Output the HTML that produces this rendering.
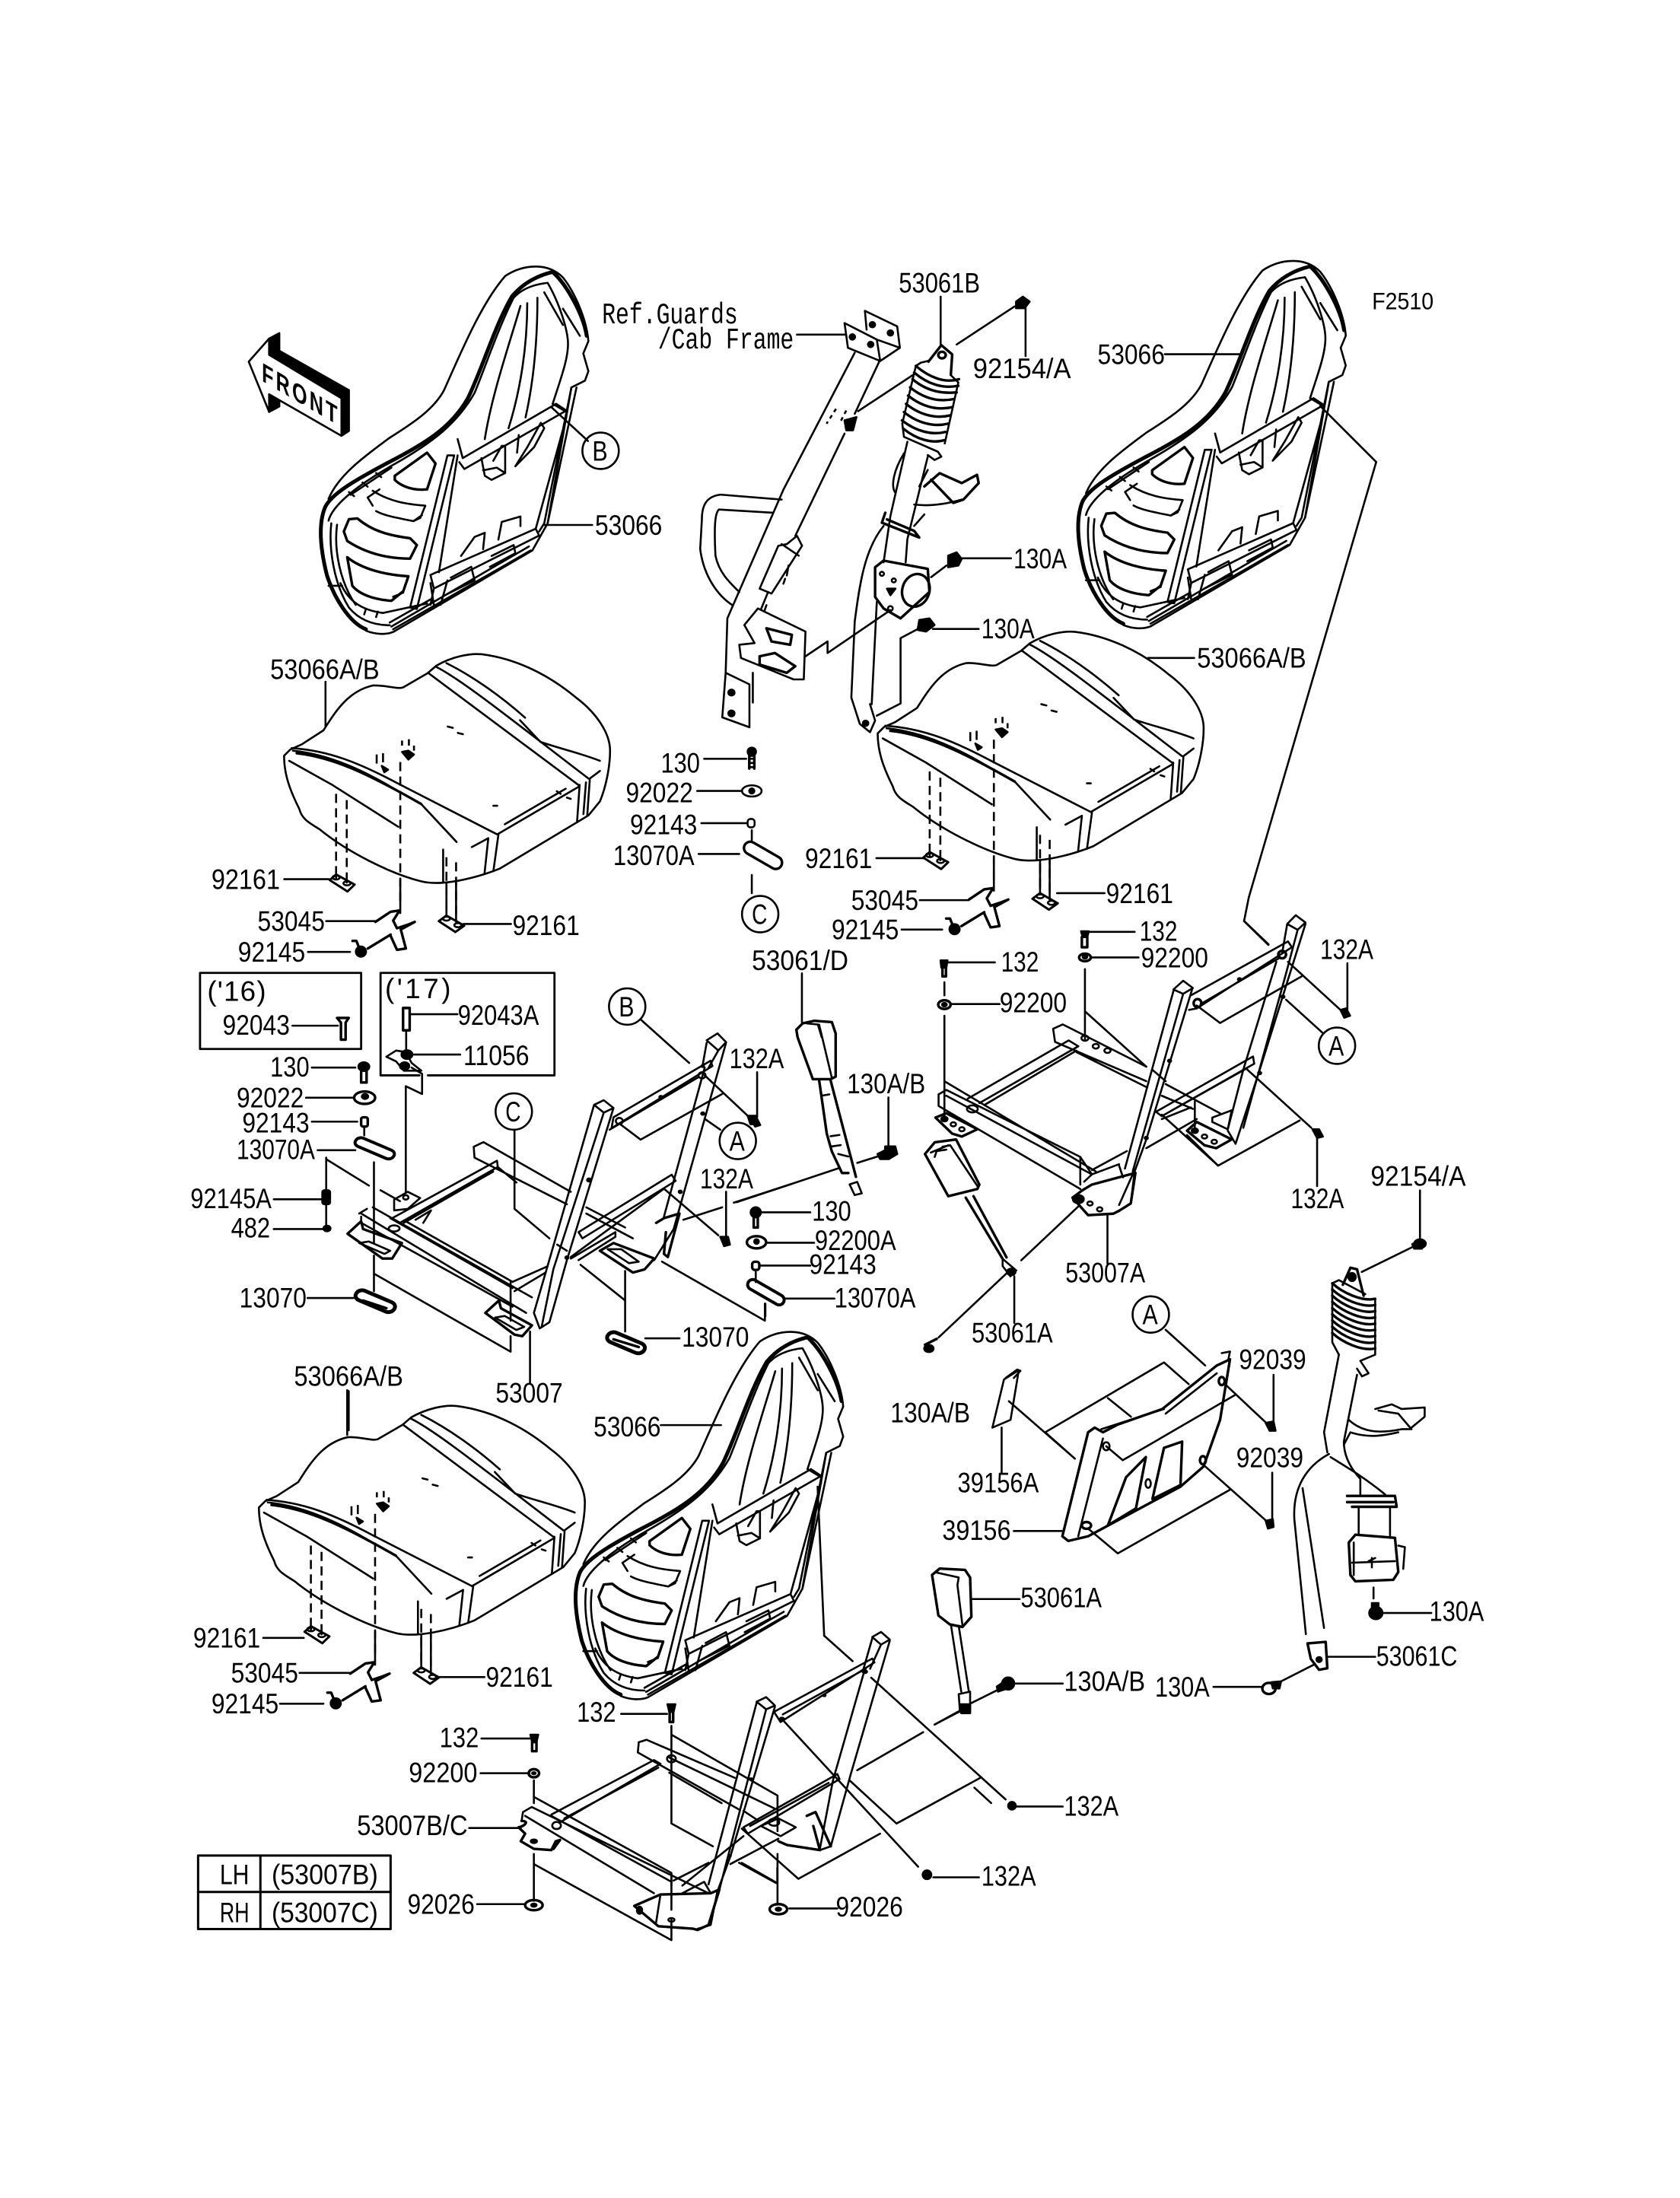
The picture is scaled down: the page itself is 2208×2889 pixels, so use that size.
<!DOCTYPE html>
<html><head><meta charset="utf-8"><style>
html,body{margin:0;padding:0;background:#fff}
svg{display:block}
svg *{vector-effect:non-scaling-stroke}
g,path,ellipse,circle,rect,use{fill:none;stroke:#000;stroke-width:2.6;stroke-linejoin:round;stroke-linecap:round}
.t{stroke-width:5}
.m{stroke-width:3.4}
.k{fill:#000}
.d{stroke-dasharray:12 7;stroke-linecap:butt}
text{font-family:"Liberation Sans",sans-serif;font-size:20px;fill:#000;stroke:none}
</style></head><body>
<svg xmlns="http://www.w3.org/2000/svg" width="2208" height="2889" viewBox="0 0 1200 1570.1">
<rect width="1200" height="1571" style="fill:#fff;stroke:none"/>
<defs>
<g id="sb"><g transform="translate(152.2,173.9) scale(.2426,.1941)">
<path d="M340 940C370 850 450 780 520 715C590 660 650 610 680 540C730 400 790 220 860 120C890 95 920 85 950 85C985 85 1010 100 1030 125C1065 180 1100 280 1105 360L1090 405L1105 470L1095 505L1055 530L985 1030L940 1130L530 1430C510 1440 480 1440 450 1425"/>
<path class="t" d="M450 1420C400 1395 355 1300 335 1220C315 1120 310 1030 330 970C350 920 420 870 510 810C620 740 700 680 750 570C790 470 830 300 880 195C910 150 950 120 1000 105C1040 150 1090 260 1100 340"/>
<path d="M340 1020C350 970 410 900 530 815C650 730 720 660 770 550C800 460 840 310 885 200C910 165 950 150 985 145C1020 220 1045 320 1045 370C1045 430 1020 510 1000 590"/>
<path d="M348 1030C340 1120 355 1250 400 1340C430 1385 470 1405 520 1405M365 1035C355 1130 375 1250 420 1330"/>
<path d="M905 230C870 380 820 560 800 720M925 220C925 380 905 540 870 680M955 200C955 350 945 500 920 640M975 180L1030 300M1080 340L1030 240"/>
<path d="M720 720L735 790L1010 590L1040 615L740 830L725 805M720 780L665 1210M690 780L580 1340L600 1345L710 780ZM1070 530L985 1030M1040 640L950 1050M1000 590L1040 620M1055 530L975 1030L960 1060"/>
<path d="M640 1220L950 1050L960 1075L650 1270L640 1220M650 1270L640 1330M690 1240L670 1330"/>
<path class="m" d="M630 770L655 810L630 905C590 910 555 895 535 870L535 855Z"/>
<path d="M490 905L455 935L470 965M470 910C520 950 570 960 625 965L610 1010L590 1022C540 1010 500 1000 480 985M590 1022L615 1000"/>
<path class="m" d="M400 1015L425 1012C470 1060 520 1075 580 1085L600 1110L580 1160C510 1160 450 1140 395 1095L385 1060Z"/>
<path class="m" d="M395 1155C440 1200 510 1220 575 1225L560 1280L525 1315C470 1310 430 1290 410 1260Z"/>
<path d="M530 1300L560 1285M405 925L525 825M440 880L455 895M480 845L495 860M400 915L415 930M340 1260L380 1260M375 1250C400 1320 440 1350 500 1360L630 1325M450 1345L445 1365M485 1355L480 1375M530 1420L935 1130M525 1410L930 1115M520 1395L640 1310"/>
<path d="M790 790L800 855L820 870L860 845L860 745L850 745L825 800M795 835L835 825L860 845M890 820L925 750L965 660L975 680L945 750L890 820M900 705L895 770"/>
<path d="M730 1150L770 1080L800 1065L795 1125M840 1090L850 1025L905 1005L905 1040M700 1230L760 1190L770 1240L690 1290M820 1150L885 1110L890 1140L815 1190M650 1330L640 1250"/>
</g></g>

<g id="cu"><g transform="translate(184.8,456.5) scale(.1812)">
<path d="M100 460L125 435L170 415L255 360C300 290 350 205 450 183C500 180 550 200 570 190L665 135L700 105C760 70 830 55 880 60C1000 75 1130 130 1250 230C1330 290 1385 370 1385 440C1385 500 1370 580 1345 640L1300 695L950 905C850 945 720 975 640 955C520 925 350 840 240 750C200 725 170 710 160 670C120 590 100 530 100 460Z"/>
<path d="M130 430C280 440 400 490 550 570L940 770M135 440C280 455 420 520 550 600L640 650L780 800M120 480L290 575L550 740"/>
<path class="m" d="M150 450C290 465 430 530 640 650"/>
<path d="M940 770L1265 580M970 730L1210 590M840 820L905 785L890 925M945 770L925 915M670 135L1260 575M700 110C800 160 1000 320 1300 550M740 95C850 150 960 230 1050 310M1030 320L1110 405C1180 430 1270 450 1345 480M1265 575L1255 720M1305 555L1295 695M1290 565L1280 690M1305 550L1345 520"/>
<path class="d" d="M305 610V930M347 635V925M558 485V1050M778 880V1115M740 860V1095"/>
<path d="M727 830V960M558 950V1080M305 930V945M347 925V960M740 960V1095M778 960V1115"/>
<path d="M745 345L765 350M785 370L805 375M925 657L940 657M1175 600L1190 610M1215 625L1230 630"/>
<path class="d" d="M465 455V510M490 450V500M565 400V420M592 395V420M612 420V440"/>
<path class="k" d="M565 445L590 440L612 455L590 475ZM485 500L510 515L495 525Z"/>
<path d="M280 950L305 928L378 968L350 995Z" style="stroke-width:3"/>
<ellipse cx="305" cy="940" rx="14" ry="8"/><ellipse cx="348" cy="963" rx="14" ry="8"/>
<path d="M710 1112L740 1090L810 1130L775 1155Z" style="stroke-width:3"/>
<ellipse cx="740" cy="1102" rx="14" ry="8"/><ellipse cx="785" cy="1128" rx="14" ry="8"/>
<path class="m" d="M460 1115L520 1075L555 1070L530 1110L545 1140L590 1125L615 1115L560 1145L580 1220L545 1225L520 1170M430 1220L520 1165"/>
<circle class="k" cx="403" cy="1232" r="20"/><path class="m" d="M370 1190L385 1190L395 1215"/>
</g></g>

<g id="bv"><circle class="k" cx="0" cy="0" r="3.4" style="stroke-width:1"/><path class="m" d="M-1.8 3V12M1.8 3V12"/><path d="M-2 5H2M-2 8H2M-2 11H2"/></g>
<g id="sl"><rect x="-15" y="-4.5" width="30" height="9" rx="4.5" transform="rotate(30)" style="stroke-width:3.4"/></g>
</defs>

<!-- seats -->
<use href="#sb"/><use href="#sb" x="541" y="-4"/><use href="#sb" x="182" y="761"/>
<use href="#cu"/><use href="#cu" x="424" y="-16"/><use href="#cu" x="-18" y="537"/>

<!-- front arrow -->
<g transform="translate(152.2,173.9) scale(.2426,.1941)">
<path class="k" d="M165 350L195 330L195 395L400 540L400 690L378 708L378 570L165 410Z"/>
<path class="k" d="M165 620L195 600L195 575L165 555Z"/>
<path d="M165 350L105 435L165 620L165 555L378 708L378 570L165 410Z" style="fill:#fff"/>
</g>
<text transform="matrix(.72,.42,0,1,187,272)" textLength="75" lengthAdjust="spacing" style="font-weight:bold;font-size:19px">FRONT</text>

<!-- belt assembly center -->
<g transform="translate(478.3,184.8) scale(.2426,.2357)">
<path d="M515 195L610 245L620 310L525 270ZM575 158L670 205L678 270L620 310M575 158L580 215M610 245L678 270"/>
<circle class="k" cx="538" cy="237" r="8"/><circle class="k" cx="592" cy="260" r="8"/><circle class="k" cx="597" cy="200" r="8"/><circle class="k" cx="650" cy="225" r="8"/>
<path d="M545 285L335 700L170 1090L165 1255M618 310L545 470M515 530L370 840M330 730L150 715C110 720 95 745 95 790L90 880C100 960 140 1020 185 1050M305 770L145 760C135 770 130 800 135 900C145 950 175 980 205 1010"/>
<path class="d" style="stroke-dasharray:5 5" d="M490 455L462 500M520 460L500 500"/>
<path class="k" d="M515 490L550 480L540 520L520 520Z"/>
<path d="M320 870L265 1000L300 1015L390 870L375 840L345 865ZM330 865L380 900M345 960L350 930M335 985L340 970"/>
<path d="M260 1060L400 1130L395 1275L365 1275L210 1210L205 1170L250 1165L220 1110ZM285 1050L280 1065M290 1010L270 1060"/>
<path class="m" d="M285 1120L360 1140L355 1170L300 1160Z"/>
<path class="m" d="M265 1205L310 1195L370 1235L345 1255L265 1230Z"/>
<path d="M165 1255L235 1290L235 1420L155 1390ZM245 1255V1345"/>
<circle class="k" cx="182" cy="1315" r="9"/><circle class="k" cx="182" cy="1378" r="9"/>
<path d="M400 1205L465 1160V1195L650 1065M555 462L720 350"/>
<path d="M845 260L1015 145M798 115V260M1048 145V295M375 230H515M1005 908H860M910 1122H775M770 965L815 930M680 1348V1150L735 1120M680 1348L610 1385"/>
<path class="m" d="M762 312L800 262L832 290L828 352"/>
<path d="M760 310L740 315L725 325L685 500L690 540L790 585L800 600L780 610L760 595M850 375L810 560M850 375L830 355"/>
<ellipse cx="802" cy="292" rx="11" ry="10" class="m"/>
<path class="m" d="M725 325C765 360 810 378 852 365M720 345C760 380 805 395 850 385M715 365C755 400 800 410 845 405M708 390C750 425 795 435 838 425M702 415C745 450 790 460 832 450M696 440C738 475 785 485 825 475M690 465C732 500 780 510 820 500M684 490C728 525 775 535 812 525M688 515C730 550 775 560 808 550"/>
<path d="M700 555L650 780L630 920M760 600L700 850L695 920M690 590C660 640 650 690 665 710"/>
<path class="m" d="M750 690L795 650L860 680L905 655L910 680L865 730L835 740L770 670"/>
<path d="M720 745C760 750 810 745 860 730M720 810L750 775M735 690L760 640"/>
<path class="m" d="M635 770L625 800L735 845L720 825L640 790"/>
<path class="m" d="M605 935L630 915L760 940L765 1010L680 1090L630 1060L605 1025Z"/>
<ellipse cx="725" cy="1005" rx="40" ry="50" transform="rotate(15 725 1005)" class="m"/>
<circle cx="625" cy="955" r="6"/><circle cx="660" cy="975" r="6"/><circle cx="650" cy="1060" r="7"/><path class="k" d="M640 1000L665 1000L650 1020Z"/>
<path d="M630 810C575 880 560 980 545 1100L535 1330L560 1410L590 1435L605 1400L590 1350M610 1040L595 1350"/>
<circle class="k" cx="577" cy="1408" r="8"/>
<path class="k" d="M1020 130L1040 115L1060 130L1045 150L1020 150Z"/>
<path class="k" d="M820 900L845 890L860 910L850 930L820 935Z"/>
<path class="k" d="M735 1095L765 1090L780 1110L755 1130L730 1125Z"/>
</g>

<!-- hardware center column -->
<path d="M503 542H533M498 565H530M501 588H533M499 610H528M537 593V600M537 625V638"/>
<use href="#bv" x="537" y="537"/>
<ellipse cx="537" cy="565" rx="7" ry="4"/><circle class="k" cx="537" cy="565" r="1.8"/>
<rect x="534" y="585" width="5" height="6" rx="2"/>
<use href="#sl" x="545" y="611"/>

<!-- 53061/D + hardware -->
<g transform="translate(521.7,668.5) scale(.1812)">
<path d="M282 148V340M623 637V825M500 895L580 870M25 1050L430 915"/>
<path class="m" d="M260 370L285 345L330 335L400 340L415 385L415 555L395 565L325 565L265 400Z"/>
<path d="M300 345L350 350L400 560M345 350L360 400"/>
<path class="m" d="M350 570L380 780L400 850L440 935L465 935M395 570L495 950"/>
<path d="M360 630L390 625M395 790L430 785M400 830L435 825M425 860L465 870M470 980L500 970L518 1015L490 1022Z"/>
<path class="k" d="M580 860L610 845L610 830L650 830L658 860L625 880L590 880Z"/>
<path d="M120 1090H315M140 1210H330M120 1300H315M215 1430H410M100 1325V1365M138 1450V1500"/>
<circle class="k" cx="100" cy="1090" r="20"/>
<path class="m" d="M92 1110V1150H108V1110"/>
<ellipse cx="103" cy="1208" rx="38" ry="24" class="m"/><circle class="k" cx="103" cy="1205" r="9"/>
<rect x="86" y="1285" width="28" height="32" rx="10" class="m"/>
<rect x="60" y="1385" width="160" height="40" rx="20" transform="rotate(30 140 1405)" style="stroke-width:4"/>
</g>

<!-- Frame 1 -->
<g transform="translate(130.4,673.9) scale(.2773,.2218)">
<rect x="45" y="95" width="415" height="245" style="stroke-width:2.8"/>
<path style="stroke-width:2.8" d="M632 425H958V95H510V425H610"/>
<path d="M283 265H400M585 228H708M590 358H715M333 400H445M318 497H440M333 574H450M348 666H445M235 824H360M235 920H360M322 1142H440"/>
<path class="m" d="M398 240H428L420 255V310H408V255Z"/>
<path class="m" d="M568 208H585V280H568Z"/>
<path d="M576 285V345M525 365L550 345L575 350L590 385L615 410L570 410L550 380Z"/>
<circle class="k" cx="578" cy="358" r="14"/><circle class="k" cx="572" cy="395" r="12"/>
<circle class="k" cx="467" cy="397" r="14"/><path class="m" d="M460 410V448H474V410"/>
<ellipse cx="469" cy="497" rx="27" ry="20" class="m"/><circle class="k" cx="470" cy="493" r="8"/>
<rect x="460" y="560" width="17" height="30" rx="6" class="m"/>
<path d="M468 595V618"/>
<rect x="440" y="645" width="110" height="30" rx="14" transform="rotate(28 495 660)" style="stroke-width:4"/>
<rect x="360" y="795" width="20" height="45" rx="6" class="k"/>
<circle class="k" cx="372" cy="918" r="9"/>
<rect x="440" y="1135" width="110" height="34" rx="16" transform="rotate(28 495 1155)" style="stroke-width:5"/>
<path class="m" d="M465 1150L525 1175"/>
<rect x="1090" y="1268" width="105" height="34" rx="16" transform="rotate(28 1140 1285)" style="stroke-width:5"/>
<path class="m" d="M1110 1275L1175 1300"/>
<path d="M1192 1272H1280"/>
<path d="M1350 312L1378 290L1400 318L1380 345ZM1350 320L1340 390M1345 400L1240 880M1400 320L1265 920L1215 1020M1380 345L1355 400"/>
<path d="M1060 520L1085 505L1110 530L1085 545ZM1060 520L940 1040L905 1190M1085 545L955 1050L925 1235M1110 530L990 1020L945 1220L920 1240L905 1190"/>
<path d="M1110 560L1360 378L1365 395L1105 595ZM1100 600L1330 430"/>
<ellipse cx="1125" cy="572" rx="9" ry="10"/><ellipse cx="1338" cy="425" rx="9" ry="10"/><circle class="k" cx="1232" cy="495" r="4"/><circle class="k" cx="1047" cy="762" r="5"/><circle class="k" cx="1340" cy="548" r="4"/><circle class="k" cx="990" cy="1012" r="4"/><circle class="k" cx="1282" cy="800" r="4"/>
<path d="M1020 930L1260 745L1270 765L1030 950ZM1000 1010L1240 790M1000 1015L1115 930L1115 945L1020 1020"/>
<path d="M460 870L885 1190M460 880L460 900L850 1170M490 850L900 1140M535 885L850 1110M575 895L850 1090M455 870L475 855"/>
<path d="M750 655L775 640L1000 800M750 655L752 690L990 840M1040 850L1140 915M1040 870L1160 950M812 720L860 770"/>
<path d="M540 885L810 700L812 720L560 900M570 900L800 735M850 1090L940 1040M855 1120L935 1060M600 890L640 860L620 900"/>
<ellipse cx="545" cy="918" rx="14" ry="10"/>
<path d="M545 825L580 800L612 820L580 855L545 860Z"/><circle cx="575" cy="818" r="7"/>
<path class="m" d="M425 935L460 895L465 920L565 965L540 1015L515 1015Z"/>
<path d="M455 965L480 960L535 990L520 1000Z"/>
<path class="m" d="M780 1190L815 1150L820 1175L900 1230L875 1265L855 1260Z"/>
<path d="M805 1205L830 1200L880 1235L860 1245Z"/>
<path class="m" d="M1075 990L1110 965L1215 1015L1190 1050L1160 1060Z"/>
<path d="M1095 985L1130 985L1175 1025L1150 1030Z"/>
<path class="m" d="M1220 900L1240 885L1280 870L1250 1010L1240 1000L1245 930"/>
<path d="M370 690V795M370 835V905M370 695L480 780M510 795L560 830M575 460V800M575 460L617 485V420L590 400M493 705V965M493 1005V1120M495 1065L845 1315V1265M845 1090V1215M855 600V855L945 950M965 970L990 990M1140 1055V1250M1025 1035L1140 1150M1235 1025L1500 1215V1160M1345 565L1385 600M1180 245L1305 385M1345 425L1460 560M1480 415V560M1180 632L1390 485M1125 580L1180 632M1400 800V945M1240 790L1380 940M1420 835L1568 775M1290 890L1390 850M895 1250V1415"/>
<path class="k" d="M1462 565L1480 565L1488 585L1475 590Z"/><path class="k" d="M1385 945L1405 945L1410 970L1395 975Z"/>
<path d="M428 1442V1568"/>
<circle class="k" cx="1340" cy="395" r="3"/>
</g>
<path class="k" d="M534 797L540 797L541 803L536 803Z"/>

<!-- Frame 2 -->
<g transform="translate(641.3,641.3) scale(.2773,.2080)">
<path d="M1003 90L1025 60L1050 85L1030 110ZM1003 90L990 190M1050 90L930 600L870 845L850 800M1030 110L1000 260L890 790M975 220L890 590L850 795"/>
<path d="M710 315L735 285L760 310L735 330ZM710 320L585 930M735 330L605 940M758 315L640 830L610 940L600 1050"/>
<path d="M755 335L1005 150L1015 170L770 380L750 385M780 365L985 205"/>
<ellipse cx="772" cy="362" rx="10" ry="14" class="m"/><ellipse cx="990" cy="195" rx="10" ry="13" class="m"/><circle class="k" cx="880" cy="280" r="4"/><circle class="k" cx="700" cy="560" r="4"/><circle class="k" cx="640" cy="825" r="4"/><circle class="k" cx="992" cy="340" r="4"/><circle class="k" cx="932" cy="602" r="4"/>
<path d="M665 735L915 545L918 570L680 750ZM680 750L900 585"/>
<path d="M105 675L125 660L470 890L500 950L480 975M105 675V715L470 1000M120 630L510 940M125 680L500 950"/>
<path d="M400 450L425 435L640 580M400 450L405 495L640 630M460 530L640 650M690 640L830 740M680 680L760 725"/>
<path d="M180 690L440 490L465 510L210 705M225 710L460 525M500 935L590 870M640 860L770 760M680 760L755 720M810 755L860 730L850 795L810 770Z"/>
<ellipse cx="192" cy="725" rx="14" ry="12"/>
<circle cx="482" cy="482" r="9"/><circle cx="510" cy="510" r="8"/><circle cx="540" cy="525" r="8"/>
<path class="m" d="M97 755L125 740L205 795L165 820L140 810Z"/>
<circle class="k" cx="120" cy="760" r="8"/><circle cx="143" cy="778" r="7"/><circle cx="165" cy="795" r="7"/>
<path class="m" d="M745 800L770 770L860 830L820 860L790 850Z"/>
<circle class="k" cx="765" cy="800" r="8"/><circle cx="790" cy="820" r="7"/><circle cx="815" cy="838" r="7"/>
<path class="m" d="M450 1030L475 1005L500 985L612 945L600 1050L570 1075L555 1085L490 1090Z"/>
<path d="M570 920L580 960M500 950L570 915M570 1055L605 950"/>
<circle class="k" cx="465" cy="1035" r="14"/><circle cx="495" cy="1050" r="7"/><circle cx="520" cy="1070" r="7"/>
<path d="M120 405V760M120 290V335M482 245V485M482 390L640 580M655 590L690 630M470 890V985M765 700V800M745 815L825 920L1035 765M680 745L825 920M830 430L1040 270M770 370L830 430M1005 220L1140 385M1158 225V385M1000 350L1095 465M900 590L1065 790M1080 820V990M892 80L955 160M540 1090V1255M465 1060L318 1245M280 1290L105 1510M300 1300V1460M130 222H250M135 365H262M490 117H610M498 205H620"/>
<path class="k" d="M110 215L128 215L125 240L112 240Z"/><path class="m" d="M115 240V270H124V240"/>
<path class="k" d="M472 115L492 115L488 135L476 135Z"/><path class="m" d="M474 135V170H488V135"/>
<ellipse cx="120" cy="367" rx="16" ry="15" class="m"/><circle class="k" cx="120" cy="367" r="6"/>
<ellipse cx="482" cy="205" rx="15" ry="13" class="m"/><circle class="k" cx="482" cy="203" r="6"/>
<path class="k" d="M1140 385L1155 380L1165 405L1150 412Z"/><path class="k" d="M1068 795L1085 795L1095 820L1080 825Z"/>
<path class="m" d="M70 880L95 840L150 830L210 985L205 1000L130 1025Z"/>
<path d="M95 890L100 870L125 865M85 875L130 850M115 855L135 850L205 990"/>
<path class="m" d="M175 1030L270 1240M195 1025L280 1235"/>
<path d="M270 1240L305 1280L290 1300L270 1265Z"/>
<circle class="k" cx="292" cy="1285" r="11"/>
<path class="m" d="M70 1535L100 1515"/><circle cx="80" cy="1548" r="12" class="k"/>
</g>

<!-- Panel + belt right -->
<g transform="translate(706.5,896.7) scale(.2357,.2218)">
<path class="m" d="M300 570L320 555L345 570L390 545L525 495L690 355L730 335L700 530L650 680L580 745L300 905L240 920L222 905Z"/>
<path d="M345 590L270 905M340 560L530 495M535 510L690 380M705 315L730 310L725 335"/>
<path class="m" d="M360 870L415 715L475 650L445 815ZM495 785L530 620L585 600L580 740Z"/>
<ellipse cx="482" cy="735" rx="8" ry="14"/><ellipse cx="355" cy="615" rx="10" ry="13"/><ellipse cx="705" cy="405" rx="9" ry="13" class="m"/><ellipse cx="648" cy="660" rx="9" ry="13" class="m"/><ellipse cx="295" cy="870" rx="14" ry="11" class="m"/>
<path d="M535 240L655 355M605 415L530 345L170 570L260 655M360 460L430 520M60 470L260 655M355 615L405 660L745 450M715 415L845 545M862 385V535M655 680L845 860M858 700V850M300 880L390 960L730 755M75 888H220"/>
<path class="k" d="M838 540L862 535L868 565L850 565Z"/><path class="k" d="M838 855L860 850L862 875L845 880Z"/>
<path d="M45 400L90 370L65 530L10 555ZM38 555V700M50 395L85 368L95 372L75 395"/>
<path class="m" d="M1072 95L1095 40L1115 45L1135 130"/><ellipse cx="1100" cy="70" rx="11" ry="13" class="k"/>
<path class="m" d="M1040 90C1070 120 1130 150 1170 140M1040 110C1070 140 1130 170 1170 160M1040 130C1070 160 1130 190 1170 180M1040 150C1070 180 1130 210 1170 200M1040 170C1070 200 1130 230 1170 220M1040 190C1070 220 1130 250 1170 240M1040 210C1070 240 1130 270 1170 260M1040 230C1070 260 1130 290 1170 280M1040 250C1070 280 1130 310 1170 300"/>
<path d="M1040 90V280L1060 320M1170 140V320L1125 340L1150 380L1130 390L1115 365M1040 90L1060 80L1140 125"/>
<path d="M1060 320L1015 570L1025 635M1115 385L1075 600C1075 640 1090 680 1125 720L1125 770M1035 650C1080 680 1130 710 1200 770M1030 640C960 680 920 750 925 850L960 1220M950 750L1015 1200"/>
<path class="m" d="M1085 775L1230 775L1235 810L1100 810M1085 795L1225 795"/>
<path d="M1120 810V900M1215 810V910"/>
<path class="m" d="M1090 925L1110 900L1230 910L1240 1020L1225 1045L1110 1050L1095 1030Z"/>
<path d="M1240 935L1260 940L1255 1010M1100 990L1230 985M1105 925V1030M1150 985L1170 975M1160 975V1005"/>
<path d="M1090 530C1130 570 1180 575 1250 560L1280 560L1240 510L1180 500M1170 495L1220 480L1250 495L1320 490L1320 520L1280 555M1075 610L1095 570C1150 590 1200 580 1240 570"/>
<path class="m" d="M965 1250L1020 1245L1025 1330L1000 1335L975 1300Z"/>
<circle cx="1000" cy="1302" r="8" class="k"/>
<path d="M1165 1070V1105M1025 1293H1170M680 1390H830M885 1372L985 1318M1190 1152H1340"/>
<circle class="k" cx="1172" cy="1152" r="20"/><path class="k" d="M1160 1120H1180V1135H1160Z"/>
<ellipse cx="848" cy="1395" rx="20" ry="18" class="m"/><path class="k" d="M855 1375L885 1372L880 1395L860 1395Z"/>
</g>
<g transform="translate(641.3,641.3) scale(.2773,.2080)">
<path d="M1195 1285L1325 1200M1345 1005V1170"/>
<circle class="k" cx="1345" cy="1188" r="15"/><path class="k" d="M1325 1190L1345 1175L1350 1205L1330 1205Z"/>
</g>

<!-- 53061A lower + 130A/B -->
<g transform="translate(641.3,1119.6) scale(.1812)">
<path class="m" d="M135 30L165 5L265 10L285 40L290 195L255 235L205 225L160 190Z"/>
<path d="M235 70L255 230M150 20L240 40L235 70M210 230L250 490M240 230L280 490M240 500L285 490L285 570L245 570ZM290 125H480M465 458H650M390 485L290 535M245 565L145 620"/>
<path class="k" d="M245 540L285 540L285 575L250 575Z"/>
<circle class="k" cx="435" cy="458" r="24"/><path class="k" d="M390 470L420 450L425 480L395 490Z"/>
</g>

<!-- Frame 3 -->
<g transform="translate(163,1141.3) scale(.3119,.1812)">
<path d="M1475 155L1495 135L1515 165L1495 185ZM1475 160L1455 280M1515 170L1425 700L1380 980L1355 995M1495 185L1470 280M1455 300L1385 720L1355 990"/>
<path d="M1210 410L1232 392L1252 425L1232 440ZM1210 415L1100 1130M1232 440L1125 1150M1252 430L1150 1020L1120 1160L1105 1290L1075 1305"/>
<path d="M1250 450L1475 240L1480 255L1265 490ZM1270 460L1460 280"/>
<circle class="k" cx="1268" cy="478" r="5"/><circle class="k" cx="1458" cy="292" r="5"/><circle class="k" cx="1365" cy="385" r="3"/><circle class="k" cx="1197" cy="715" r="3"/><circle class="k" cx="1148" cy="1018" r="3"/>
<path d="M1180 905L1395 695L1400 715L1190 930ZM1195 900L1375 730"/>
<path d="M675 845L695 825L1010 1090L1100 1165M675 845L672 880M680 860L975 1165M700 785L1015 1085V1135M1010 630L1250 830M740 860L1015 1120"/>
<path d="M940 570L958 560L1160 710M940 575L938 610L1170 835M1180 840L1215 880M1010 690L1130 810"/>
<path d="M740 855L975 640L990 655L760 885M770 870L985 670M1040 1135L1180 940M1150 1050L1260 950M1020 1115L1100 1045"/>
<ellipse cx="752" cy="898" rx="10" ry="14"/><ellipse cx="1015" cy="635" rx="10" ry="14"/>
<path class="m" d="M672 880C690 880 680 900 665 905L680 930L670 960L700 990L740 995L750 960L760 955L745 990"/>
<circle class="k" cx="700" cy="960" r="7"/>
<path class="m" d="M930 1215L990 1170L1105 1165L1125 1150L1100 1290L1075 1310L1065 1305L985 1295Z"/>
<path d="M990 1170L980 1280M1040 1165L1090 1120L1105 1165"/>
<ellipse class="k" cx="942" cy="1232" rx="6" ry="14"/><circle cx="1015" cy="1270" r="7"/>
<path class="m" d="M1260 960L1280 975L1355 995L1340 900M1325 860L1345 845L1380 980"/>
<path d="M1220 900L1260 870L1300 905L1265 940Z"/><ellipse cx="1250" cy="885" rx="12" ry="14"/>
<path d="M700 720V810M700 1010V1195M552 908H670M570 1208H680M580 555H690M578 692H690M900 458H1005M1015 505V890L1110 980M1015 1090V1230M1015 540L1258 780V920M1258 1010V1210M1170 1045L1255 1125M1395 1225H1285M700 1050L1015 1350V1270M700 785V800"/>
<path class="k" d="M692 540H710L706 570H696Z"/><path class="m" d="M696 570V605H706V570"/>
<path class="k" d="M1006 420H1024L1020 450H1010Z"/><path class="m" d="M1011 450V490H1019V450"/>
<ellipse cx="700" cy="692" rx="12" ry="16" class="m"/><circle class="k" cx="700" cy="692" r="4"/>
<ellipse cx="700" cy="1212" rx="20" ry="20" class="m"/><circle class="k" cx="700" cy="1212" r="6"/>
<ellipse cx="1260" cy="1228" rx="20" ry="20" class="m"/><circle class="k" cx="1260" cy="1228" r="6"/>
<path d="M1365 150L1430 250"/>
</g>
<g transform="translate(521.7,1195.7) scale(.1812)">
<path d="M555 15L1085 495M1125 523H1310M805 200L920 140M760 230L500 380M985 410L655 590L470 420M205 180L740 760M800 802H980M590 630L268 808L45 610M45 745L185 825V765"/>
<circle class="k" cx="1110" cy="520" r="15"/><circle class="k" cx="775" cy="792" r="17"/>
</g>
<path d="M584 1062L588.700 1168.500M708 1288L696 1277"/>

<!-- misc right seat leader -->
<path d="M943 290L983 330L892 641L888.600 658L906 675"/>
<!-- seat & cushion leaders -->
<path d="M388 375H423M394 291L420 315M832 253H885M232.500 487V519M853 470H820M248 993V1025M203 628H235M365 660H331M233 658H268M220 680H250M626 613H660M789 638H755M657 643H692M644 664H673M188 1170H217M346 1198H313M214 1195H250M200 1217H231M472 1018H515"/>

<!-- circles -->
<circle cx="429" cy="322" r="13"/><text x="423" y="329" textLength="11" lengthAdjust="spacingAndGlyphs">B</text>
<circle cx="543" cy="653" r="13"/><text x="537" y="660" textLength="11" lengthAdjust="spacingAndGlyphs">C</text>
<circle cx="448" cy="719" r="13"/><text x="442" y="726" textLength="11" lengthAdjust="spacingAndGlyphs">B</text>
<circle cx="527" cy="815" r="13"/><text x="521" y="822" textLength="11" lengthAdjust="spacingAndGlyphs">A</text>
<circle cx="367" cy="794" r="13"/><text x="361" y="801" textLength="11" lengthAdjust="spacingAndGlyphs">C</text>
<circle cx="955" cy="747" r="13"/><text x="949" y="754" textLength="11" lengthAdjust="spacingAndGlyphs">A</text>
<circle cx="822" cy="939" r="13"/><text x="816" y="946" textLength="11" lengthAdjust="spacingAndGlyphs">A</text>

<!-- table -->
<rect x="141.500" y="1325.500" width="137.500" height="52.500" style="stroke-width:3"/>
<path d="M186 1325.500V1378M141.500 1351.500H279" style="stroke-width:3"/>

<!-- labels -->
<text x="430" y="231" textLength="97" lengthAdjust="spacingAndGlyphs" style="font-family:'Liberation Mono',monospace;font-size:21px">Ref.Guards</text>
<text x="470" y="249" textLength="97" lengthAdjust="spacingAndGlyphs" style="font-family:'Liberation Mono',monospace;font-size:21px">/Cab Frame</text>
<text x="642" y="209" textLength="58" lengthAdjust="spacingAndGlyphs">53061B</text>
<text x="695" y="270" textLength="70" lengthAdjust="spacingAndGlyphs">92154/A</text>
<text x="980" y="221" textLength="44" lengthAdjust="spacingAndGlyphs" style="font-size:17px">F2510</text>
<text x="784" y="260" textLength="48" lengthAdjust="spacingAndGlyphs">53066</text>
<text x="425" y="382" textLength="48" lengthAdjust="spacingAndGlyphs">53066</text>
<text x="724" y="406" textLength="38" lengthAdjust="spacingAndGlyphs">130A</text>
<text x="701" y="456" textLength="38" lengthAdjust="spacingAndGlyphs">130A</text>
<text x="193" y="485" textLength="78" lengthAdjust="spacingAndGlyphs">53066A/B</text>
<text x="855" y="477" textLength="78" lengthAdjust="spacingAndGlyphs">53066A/B</text>
<text x="472" y="552" textLength="28" lengthAdjust="spacingAndGlyphs">130</text>
<text x="447" y="573" textLength="48" lengthAdjust="spacingAndGlyphs">92022</text>
<text x="450" y="596" textLength="48" lengthAdjust="spacingAndGlyphs">92143</text>
<text x="438" y="618" textLength="58" lengthAdjust="spacingAndGlyphs">13070A</text>
<text x="151" y="635" textLength="49" lengthAdjust="spacingAndGlyphs">92161</text>
<text x="366" y="668" textLength="48" lengthAdjust="spacingAndGlyphs">92161</text>
<text x="184" y="665" textLength="48" lengthAdjust="spacingAndGlyphs">53045</text>
<text x="170" y="687" textLength="48" lengthAdjust="spacingAndGlyphs">92145</text>
<text x="575" y="620" textLength="48" lengthAdjust="spacingAndGlyphs">92161</text>
<text x="790" y="645" textLength="48" lengthAdjust="spacingAndGlyphs">92161</text>
<text x="608" y="650" textLength="48" lengthAdjust="spacingAndGlyphs">53045</text>
<text x="594" y="671" textLength="48" lengthAdjust="spacingAndGlyphs">92145</text>
<text x="715" y="694" textLength="27" lengthAdjust="spacingAndGlyphs">132</text>
<text x="714" y="723" textLength="48" lengthAdjust="spacingAndGlyphs">92200</text>
<text x="814" y="672" textLength="27" lengthAdjust="spacingAndGlyphs">132</text>
<text x="815" y="691" textLength="48" lengthAdjust="spacingAndGlyphs">92200</text>
<text x="943" y="685" textLength="38" lengthAdjust="spacingAndGlyphs">132A</text>
<text x="922" y="863" textLength="38" lengthAdjust="spacingAndGlyphs">132A</text>
<text x="537" y="693" textLength="69" lengthAdjust="spacingAndGlyphs">53061/D</text>
<text x="605" y="781" textLength="56" lengthAdjust="spacingAndGlyphs">130A/B</text>
<text x="521" y="763" textLength="39" lengthAdjust="spacingAndGlyphs">132A</text>
<text x="500" y="849" textLength="38" lengthAdjust="spacingAndGlyphs">132A</text>
<text x="148" y="715" textLength="42" lengthAdjust="spacing">('16)</text>
<text x="159" y="739" textLength="48" lengthAdjust="spacingAndGlyphs">92043</text>
<text x="275" y="713" textLength="47" lengthAdjust="spacing">('17)</text>
<text x="327" y="732" textLength="58" lengthAdjust="spacingAndGlyphs">92043A</text>
<text x="331" y="761" textLength="47" lengthAdjust="spacingAndGlyphs">11056</text>
<text x="193" y="769" textLength="28" lengthAdjust="spacingAndGlyphs">130</text>
<text x="169" y="791" textLength="48" lengthAdjust="spacingAndGlyphs">92022</text>
<text x="173" y="809" textLength="48" lengthAdjust="spacingAndGlyphs">92143</text>
<text x="169" y="828" textLength="56" lengthAdjust="spacingAndGlyphs">13070A</text>
<text x="136" y="863" textLength="58" lengthAdjust="spacingAndGlyphs">92145A</text>
<text x="165" y="884" textLength="28" lengthAdjust="spacingAndGlyphs">482</text>
<text x="171" y="934" textLength="48" lengthAdjust="spacingAndGlyphs">13070</text>
<text x="487" y="962" textLength="48" lengthAdjust="spacingAndGlyphs">13070</text>
<text x="354" y="1002" textLength="48" lengthAdjust="spacingAndGlyphs">53007</text>
<text x="580" y="872" textLength="28" lengthAdjust="spacingAndGlyphs">130</text>
<text x="582" y="893" textLength="58" lengthAdjust="spacingAndGlyphs">92200A</text>
<text x="578" y="910" textLength="48" lengthAdjust="spacingAndGlyphs">92143</text>
<text x="596" y="934" textLength="58" lengthAdjust="spacingAndGlyphs">13070A</text>
<text x="761" y="916" textLength="57" lengthAdjust="spacingAndGlyphs">53007A</text>
<text x="694" y="959" textLength="58" lengthAdjust="spacingAndGlyphs">53061A</text>
<text x="979" y="847" textLength="68" lengthAdjust="spacingAndGlyphs">92154/A</text>
<text x="885" y="978" textLength="48" lengthAdjust="spacingAndGlyphs">92039</text>
<text x="883" y="1048" textLength="48" lengthAdjust="spacingAndGlyphs">92039</text>
<text x="684" y="1066" textLength="58" lengthAdjust="spacingAndGlyphs">39156A</text>
<text x="673" y="1100" textLength="49" lengthAdjust="spacingAndGlyphs">39156</text>
<text x="636" y="1016" textLength="57" lengthAdjust="spacingAndGlyphs">130A/B</text>
<text x="210" y="990" textLength="78" lengthAdjust="spacingAndGlyphs">53066A/B</text>
<text x="424" y="1026" textLength="48" lengthAdjust="spacingAndGlyphs">53066</text>
<text x="729" y="1148" textLength="58" lengthAdjust="spacingAndGlyphs">53061A</text>
<text x="760" y="1208" textLength="58" lengthAdjust="spacingAndGlyphs">130A/B</text>
<text x="1021" y="1158" textLength="39" lengthAdjust="spacingAndGlyphs">130A</text>
<text x="825" y="1212" textLength="39" lengthAdjust="spacingAndGlyphs">130A</text>
<text x="983" y="1190" textLength="58" lengthAdjust="spacingAndGlyphs">53061C</text>
<text x="412" y="1230" textLength="28" lengthAdjust="spacingAndGlyphs">132</text>
<text x="314" y="1248" textLength="28" lengthAdjust="spacingAndGlyphs">132</text>
<text x="292" y="1273" textLength="49" lengthAdjust="spacingAndGlyphs">92200</text>
<text x="255" y="1311" textLength="79" lengthAdjust="spacingAndGlyphs">53007B/C</text>
<text x="138" y="1177" textLength="48" lengthAdjust="spacingAndGlyphs">92161</text>
<text x="165" y="1202" textLength="48" lengthAdjust="spacingAndGlyphs">53045</text>
<text x="151" y="1224" textLength="48" lengthAdjust="spacingAndGlyphs">92145</text>
<text x="347" y="1205" textLength="48" lengthAdjust="spacingAndGlyphs">92161</text>
<text x="760" y="1297" textLength="39" lengthAdjust="spacingAndGlyphs">132A</text>
<text x="701" y="1347" textLength="39" lengthAdjust="spacingAndGlyphs">132A</text>
<text x="291" y="1367" textLength="48" lengthAdjust="spacingAndGlyphs">92026</text>
<text x="597" y="1369" textLength="48" lengthAdjust="spacingAndGlyphs">92026</text>
<text x="157" y="1346" textLength="21" lengthAdjust="spacingAndGlyphs">LH</text>
<text x="157" y="1373" textLength="21" lengthAdjust="spacingAndGlyphs">RH</text>
<text x="194" y="1346" textLength="76" lengthAdjust="spacingAndGlyphs">(53007B)</text>
<text x="194" y="1373" textLength="76" lengthAdjust="spacingAndGlyphs">(53007C)</text>
</svg>
</body></html>
